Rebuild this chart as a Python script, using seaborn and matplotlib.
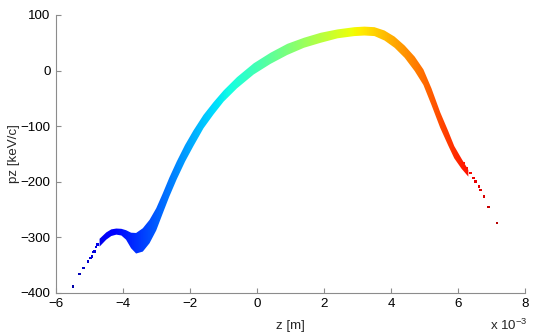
import numpy as np
import pandas as pd
import matplotlib
matplotlib.use("Agg")
import matplotlib.pyplot as plt
from matplotlib.patches import Polygon
import seaborn as sns

# Longitudinal phase space
# z in units of 1e-3 m, pz in keV/c

# dense part of the bunch: centre of the cloud and vertical half-spread
band_z = [-4.70, -4.50, -4.35, -4.20, -4.05, -3.91, -3.76, -3.61, -3.41, -3.21,
          -3.01, -2.82, -2.62, -2.40, -2.15, -1.90, -1.60, -1.30, -1.00, -0.60,
          -0.10, 0.40, 0.90, 1.40, 1.90, 2.40, 2.90, 3.20, 3.50, 3.80,
          4.10, 4.40, 4.70, 4.96, 5.20, 5.46, 5.70, 5.88, 6.10, 6.30]
band_pz = [-310, -298, -292, -290, -291, -296, -306, -311, -305, -290,
           -268, -240, -210, -180, -149, -122, -92, -68, -46, -22,
           3, 22, 38, 50, 59, 66, 70, 71, 70, 63,
           51, 34, 12, -12, -47, -89, -122, -147, -168, -185]
band_spread = [7, 6.5, 6, 5.5, 6, 8.5, 14, 18.5, 21, 21,
               20, 18, 17, 16, 15, 14, 12, 11, 10, 10,
               10, 10, 10, 9, 9, 8, 8, 8, 8, 9,
               10, 11, 13, 14, 15, 14, 13, 11, 9, 6]

# isolated particles at the head and tail
tail_z = [-5.49, -5.30, -5.18, -5.05, -4.97, -4.93, -4.88, -4.85, -4.80, -4.76,
          6.16, 6.26, 6.36, 6.46, 6.51, 6.61, 6.66, 6.76, 6.90, 7.15]
tail_pz = [-389, -366, -356, -344, -338, -335, -327, -326, -318, -313,
           -167, -176, -185, -194, -200, -209, -215, -227, -246, -275]

z_colour_range = (-6.0, 7.8)
jet = matplotlib.colormaps["jet"]

sns.set_style("ticks", {"xtick.direction": "in", "ytick.direction": "in",
                        "axes.edgecolor": "0.55"})
plt.rcParams["font.family"] = ["Liberation Sans", "DejaVu Sans"]

fig = plt.figure(figsize=(5.41, 3.34), dpi=100)
ax = fig.add_axes([0.1035, 0.1237, 0.8675, 0.8315])

# band outline, filled with a jet gradient along z
upper = np.array(band_pz) + np.array(band_spread)
lower = np.array(band_pz) - np.array(band_spread)
verts = np.concatenate([np.column_stack([band_z, upper]),
                        np.column_stack([band_z[::-1], lower[::-1]])])
outline = Polygon(verts, closed=True, facecolor="none", edgecolor="none")
ax.add_patch(outline)

gradient = np.linspace(0, 1, 512).reshape(1, -1)
im = ax.imshow(gradient, cmap=jet, aspect="auto", origin="lower",
               extent=(z_colour_range[0], z_colour_range[1], -400, 100),
               interpolation="bilinear")
im.set_clip_path(outline)

tails = pd.DataFrame({"z": tail_z, "pz": tail_pz})
sns.scatterplot(data=tails, x="z", y="pz", hue="z", palette=jet,
                hue_norm=z_colour_range, s=3, marker="s", linewidth=0,
                legend=False, ax=ax)

ax.set_xlim(-6, 8)
ax.set_ylim(-400, 100)
ax.set_xticks(range(-6, 9, 2))
ax.set_yticks(range(-400, 101, 100))
ax.tick_params(length=3.5, width=0.8, color="0.55", labelsize=9.6,
               labelcolor="black", pad=4)
sns.despine(ax=ax)
for side in ["left", "bottom"]:
    ax.spines[side].set_linewidth(0.8)

ax.set_xlabel("z [m]", fontsize=9.6, labelpad=7)
ax.set_ylabel("pz [keV/c]", fontsize=9.6, labelpad=0)
fig.text(0.906, 0.004, r"x 10$^{\mathregular{-3}}$", fontsize=9.6, va="bottom")

fig.savefig("out.png", dpi=100)
